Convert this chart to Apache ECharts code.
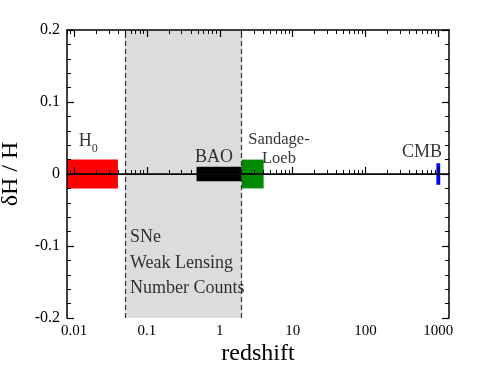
<!DOCTYPE html>
<html>
<head>
<meta charset="utf-8">
<script src="https://cdn.jsdelivr.net/npm/echarts@6/dist/echarts.min.js"></script>
<style>
  html, body { margin: 0; padding: 0; background: #fff; }
  #chart { width: 485px; height: 374px; }
</style>
</head>
<body>
<div id="chart"></div>
<script>
// axis ticks
const majorTicks = [0.01, 0.1, 1, 10, 100, 1000]
const minorSteps = [2, 3, 4, 5, 6, 7, 8, 9]
const minorTicks = []
;[0.001].concat(majorTicks).forEach(d => minorSteps.forEach(m => minorTicks.push(+(m * d).toPrecision(3))))

// error boxes: redshift range and +/- dH/H
const boxNames = ['H0', 'BAO', 'Sandage-Loeb', 'CMB']
const boxZmin = [0.001, 0.48, 2, 940]
const boxZmax = [0.04, 2, 4, 1060]
const boxErr = [0.02, 0.01, 0.02, 0.015]

// shaded redshift band (SNe etc.)
const bandZ = [0.05, 2]

// annotations
const labelText = ['{h|H}{s|0}', 'BAO', 'Sandage-\nLoeb', 'CMB', 'SNe\nWeak Lensing\nNumber Counts']
const labelZ = [0.0157, 0.832, 6.49, 597, 0.0585]
const labelY = [0.0458, 0.0236, 0.0343, 0.0299, -0.1233]

const boxColors = ['#ff0000', '#000000', '#008b00', '#0000ff']
const FONT = "'Liberation Serif', 'Times New Roman', serif"

const chart = echarts.init(document.getElementById('chart'))

const xBase = {
  type: 'log',
  logBase: 10,
  min: 0.008,
  max: 1400,
  z: 10,
  splitLine: { show: false },
  axisLine: { show: true, lineStyle: { color: '#000', width: 1.5 } }
}
const yBase = {
  type: 'value',
  min: -0.2,
  max: 0.2,
  interval: 0.1,
  z: 10,
  splitLine: { show: false },
  axisLine: { show: true, lineStyle: { color: '#000', width: 1.5 } },
  axisTick: { inside: true, length: 7, lineStyle: { color: '#000', width: 1.2 } },
  minorTick: { show: true, splitNumber: 5, length: 4, lineStyle: { color: '#000', width: 1 } },
  minorSplitLine: { show: false }
}

chart.setOption({
  animation: false,
  backgroundColor: '#fff',
  grid: { left: 67, right: 36, top: 30, bottom: 56, outerBoundsMode: 'none' },
  xAxis: [
    Object.assign({}, xBase, {
      position: 'bottom',
      name: 'redshift',
      nameLocation: 'middle',
      nameGap: 24,
      nameMoveOverlap: false,
      nameTextStyle: { fontFamily: FONT, fontSize: 24, color: '#000' },
      axisTick: { inside: true, length: 7, customValues: majorTicks, lineStyle: { color: '#000', width: 1.2 } },
      axisLabel: {
        customValues: majorTicks,
        margin: 6,
        fontFamily: FONT,
        fontSize: 15,
        color: '#000',
        formatter: v => String(+v.toPrecision(3))
      }
    }),
    Object.assign({}, xBase, {
      position: 'bottom',
      axisLine: { show: false },
      axisTick: { inside: true, length: 4, customValues: minorTicks, lineStyle: { color: '#000', width: 1 } },
      axisLabel: { show: false }
    }),
    Object.assign({}, xBase, {
      position: 'top',
      axisTick: { inside: true, length: 7, customValues: majorTicks, lineStyle: { color: '#000', width: 1.2 } },
      axisLabel: { show: false }
    }),
    Object.assign({}, xBase, {
      position: 'top',
      axisLine: { show: false },
      axisTick: { inside: true, length: 4, customValues: minorTicks, lineStyle: { color: '#000', width: 1 } },
      axisLabel: { show: false }
    })
  ],
  yAxis: [
    Object.assign({}, yBase, {
      position: 'left',
      name: 'δH / H',
      nameLocation: 'middle',
      nameRotate: 90,
      nameGap: 44,
      nameMoveOverlap: false,
      nameTextStyle: { fontFamily: FONT, fontSize: 24, color: '#000' },
      axisLabel: { margin: 7, fontFamily: FONT, fontSize: 16, color: '#000' }
    }),
    Object.assign({}, yBase, {
      position: 'right',
      axisLabel: { show: false }
    })
  ],
  series: [
    {
      // shaded band
      type: 'scatter',
      data: [],
      z: 1,
      markArea: {
        silent: true,
        itemStyle: { color: '#dcdcdc' },
        data: [[{ xAxis: bandZ[0] }, { xAxis: bandZ[1] }]]
      }
    },
    {
      type: 'custom',
      z: 2,
      data: boxNames.map((n, i) => [boxZmin[i], boxZmax[i], -boxErr[i], boxErr[i]]),
      encode: { x: [0, 1], y: [2, 3] },
      renderItem(params, api) {
        const p0 = api.coord([api.value(0), api.value(3)])
        const p1 = api.coord([api.value(1), api.value(2)])
        const cs = params.coordSys
        const shape = echarts.graphic.clipRectByRect(
          { x: p0[0], y: p0[1], width: p1[0] - p0[0], height: p1[1] - p0[1] },
          { x: cs.x, y: cs.y, width: cs.width, height: cs.height }
        )
        return shape && { type: 'rect', shape, style: { fill: boxColors[params.dataIndex] } }
      }
    },
    {
      // zero line and band edges
      type: 'scatter',
      data: [],
      markLine: {
        silent: true,
        symbol: 'none',
        label: { show: false },
        data: [
          { yAxis: 0, lineStyle: { color: '#333', width: 1.2, type: 'solid' } },
          { xAxis: bandZ[0], lineStyle: { color: '#333', width: 1.2, type: [5, 3] } },
          { xAxis: bandZ[1], lineStyle: { color: '#333', width: 1.2, type: [5, 3] } }
        ]
      }
    },
    {
      type: 'scatter',
      z: 20,
      symbolSize: 0,
      silent: true,
      data: labelText.map((t, i) => ({
        value: [labelZ[i], labelY[i]],
        label: i === 4
          ? { align: 'left', lineHeight: 25.5 }
          : i === 2
            ? { align: 'center', fontSize: 16.5, lineHeight: 19 }
            : { align: 'center', lineHeight: 18 }
      })),
      label: {
        show: true,
        position: 'inside',
        fontFamily: FONT,
        fontSize: 18,
        color: '#000',
        formatter: p => labelText[p.dataIndex],
        rich: {
          h: { fontFamily: FONT, fontSize: 18, color: '#000' },
          s: { fontFamily: FONT, fontSize: 12, color: '#000', padding: [16, 0, 0, 0] }
        }
      }
    }
  ]
})
</script>
</body>
</html>
